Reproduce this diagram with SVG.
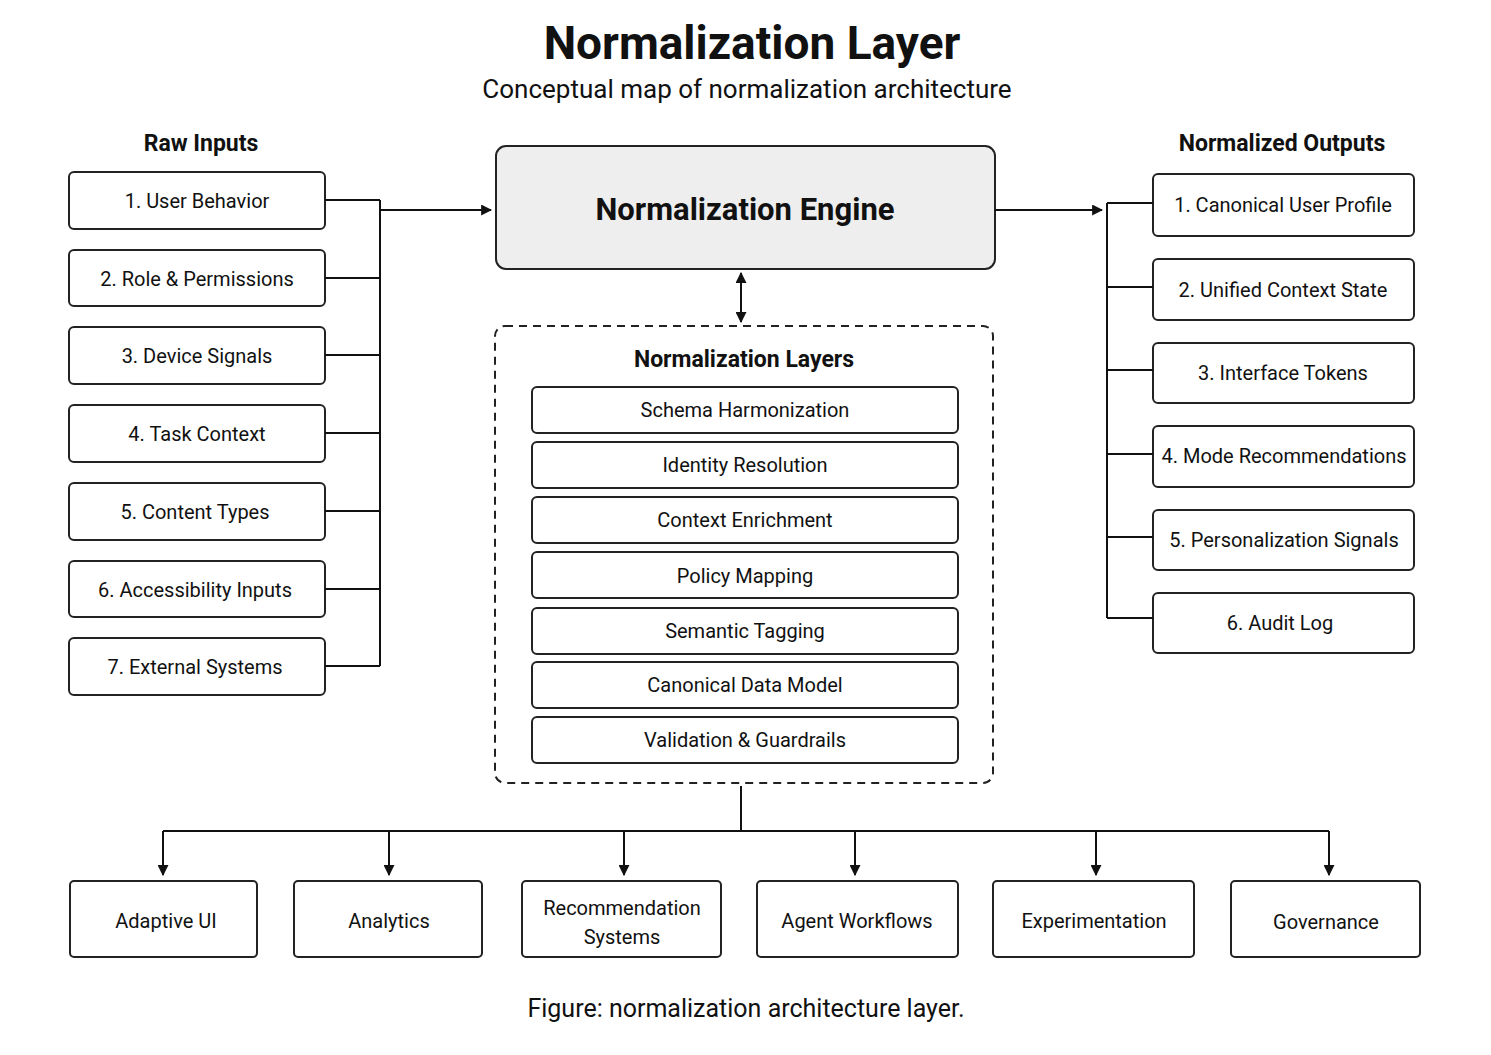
<svg xmlns="http://www.w3.org/2000/svg" width="1491" height="1055" viewBox="0 0 1491 1055">
<defs>
<marker id="ah" viewBox="0 0 10 10" refX="9" refY="5" markerWidth="11" markerHeight="11" orient="auto-start-reverse" markerUnits="userSpaceOnUse"><path d="M0,0 L10,5 L0,10 z" fill="#111"/></marker>
<style>
text{font-family:Roboto,"Liberation Sans",sans-serif;fill:#111;text-anchor:middle}
.b{fill:#fff;stroke:#222;stroke-width:2}
.l{font-size:20px}
.h{font-size:23px;font-weight:bold}
.c{fill:none;stroke:#111;stroke-width:2}
</style>
</defs>
<rect width="1491" height="1055" fill="#fff"/>
<text x="752" y="59" style="font-size:46px;font-weight:bold">Normalization Layer</text>
<text x="747" y="98" style="font-size:26px">Conceptual map of normalization architecture</text>
<text x="201" y="151" class="h">Raw Inputs</text>
<text x="1282" y="151" class="h">Normalized Outputs</text>

<g id="inputs">
<g id="in1"><rect class="b" x="69" y="172" width="256" height="57" rx="5"/><text class="l" x="197" y="208">1. User Behavior</text></g>
<g id="in2"><rect class="b" x="69" y="250" width="256" height="56" rx="5"/><text class="l" x="197" y="286">2. Role &amp; Permissions</text></g>
<g id="in3"><rect class="b" x="69" y="327" width="256" height="57" rx="5"/><text class="l" x="197" y="363">3. Device Signals</text></g>
<g id="in4"><rect class="b" x="69" y="405" width="256" height="57" rx="5"/><text class="l" x="197" y="441">4. Task Context</text></g>
<g id="in5"><rect class="b" x="69" y="483" width="256" height="57" rx="5"/><text class="l" x="195" y="519">5. Content Types</text></g>
<g id="in6"><rect class="b" x="69" y="561" width="256" height="56" rx="5"/><text class="l" x="195" y="597">6. Accessibility Inputs</text></g>
<g id="in7"><rect class="b" x="69" y="638" width="256" height="57" rx="5"/><text class="l" x="195" y="674">7. External Systems</text></g>
</g>

<g id="engine"><rect x="496" y="146" width="499" height="123" rx="10" fill="#eee" stroke="#222" stroke-width="2"/><text x="745" y="220" style="font-size:31px;font-weight:bold">Normalization Engine</text></g>

<g id="layers">
<rect x="495" y="326" width="498" height="457" rx="10" fill="none" stroke="#222" stroke-width="2" stroke-dasharray="8,6"/>
<text x="744" y="367" class="h">Normalization Layers</text>
<g id="ly1"><rect class="b" x="532" y="387" width="426" height="46" rx="5"/><text class="l" x="745" y="417">Schema Harmonization</text></g>
<g id="ly2"><rect class="b" x="532" y="442" width="426" height="46" rx="5"/><text class="l" x="745" y="472">Identity Resolution</text></g>
<g id="ly3"><rect class="b" x="532" y="497" width="426" height="46" rx="5"/><text class="l" x="745" y="527">Context Enrichment</text></g>
<g id="ly4"><rect class="b" x="532" y="552" width="426" height="46" rx="5"/><text class="l" x="745" y="583">Policy Mapping</text></g>
<g id="ly5"><rect class="b" x="532" y="608" width="426" height="46" rx="5"/><text class="l" x="745" y="638">Semantic Tagging</text></g>
<g id="ly6"><rect class="b" x="532" y="662" width="426" height="46" rx="5"/><text class="l" x="745" y="692">Canonical Data Model</text></g>
<g id="ly7"><rect class="b" x="532" y="717" width="426" height="46" rx="5"/><text class="l" x="745" y="747">Validation &amp; Guardrails</text></g>
</g>

<g id="outputs">
<g id="o1"><rect class="b" x="1153" y="174" width="261" height="62" rx="5"/><text class="l" x="1283" y="212">1. Canonical User Profile</text></g>
<g id="o2"><rect class="b" x="1153" y="259" width="261" height="61" rx="5"/><text class="l" x="1283" y="297">2. Unified Context State</text></g>
<g id="o3"><rect class="b" x="1153" y="343" width="261" height="60" rx="5"/><text class="l" x="1283" y="380">3. Interface Tokens</text></g>
<g id="o4"><rect class="b" x="1153" y="426" width="261" height="61" rx="5"/><text class="l" x="1284" y="463">4. Mode Recommendations</text></g>
<g id="o5"><rect class="b" x="1153" y="510" width="261" height="60" rx="5"/><text class="l" x="1284" y="547">5. Personalization Signals</text></g>
<g id="o6"><rect class="b" x="1153" y="593" width="261" height="60" rx="5"/><text class="l" x="1280" y="630">6. Audit Log</text></g>
</g>

<g id="consumers">
<g id="c1"><rect class="b" x="70" y="881" width="187" height="76" rx="4"/><text class="l" x="166" y="928">Adaptive UI</text></g>
<g id="c2"><rect class="b" x="294" y="881" width="188" height="76" rx="4"/><text class="l" x="389" y="928">Analytics</text></g>
<g id="c3"><rect class="b" x="522" y="881" width="199" height="76" rx="4"/><text class="l" x="622" y="915">Recommendation</text><text class="l" x="622" y="944">Systems</text></g>
<g id="c4"><rect class="b" x="757" y="881" width="201" height="76" rx="4"/><text class="l" x="857" y="928">Agent Workflows</text></g>
<g id="c5"><rect class="b" x="993" y="881" width="201" height="76" rx="4"/><text class="l" x="1094" y="928">Experimentation</text></g>
<g id="c6"><rect class="b" x="1231" y="881" width="189" height="76" rx="4"/><text class="l" x="1326" y="929">Governance</text></g>
</g>

<g id="connectors">
<path class="c" d="M325,200H380M325,278H380M325,355H380M325,433H380M325,511H380M325,589H380M325,666H380M380,200V666"/>
<path class="c" d="M380,210H491" marker-end="url(#ah)"/>
<path class="c" d="M995,210H1102" marker-end="url(#ah)"/>
<path class="c" d="M1107,203V618M1107,203H1153M1107,287H1153M1107,370H1153M1107,454H1153M1107,537H1153M1107,618H1153"/>
<path class="c" d="M741,273V322" marker-start="url(#ah)" marker-end="url(#ah)"/>
<path class="c" d="M741,786V831M163,831H1329"/>
<path class="c" d="M163,831V875" marker-end="url(#ah)"/>
<path class="c" d="M389,831V875" marker-end="url(#ah)"/>
<path class="c" d="M624,831V875" marker-end="url(#ah)"/>
<path class="c" d="M855,831V875" marker-end="url(#ah)"/>
<path class="c" d="M1096,831V875" marker-end="url(#ah)"/>
<path class="c" d="M1329,831V875" marker-end="url(#ah)"/>
</g>

<text x="746" y="1017" style="font-size:25px">Figure:  normalization architecture layer.</text>
</svg>
